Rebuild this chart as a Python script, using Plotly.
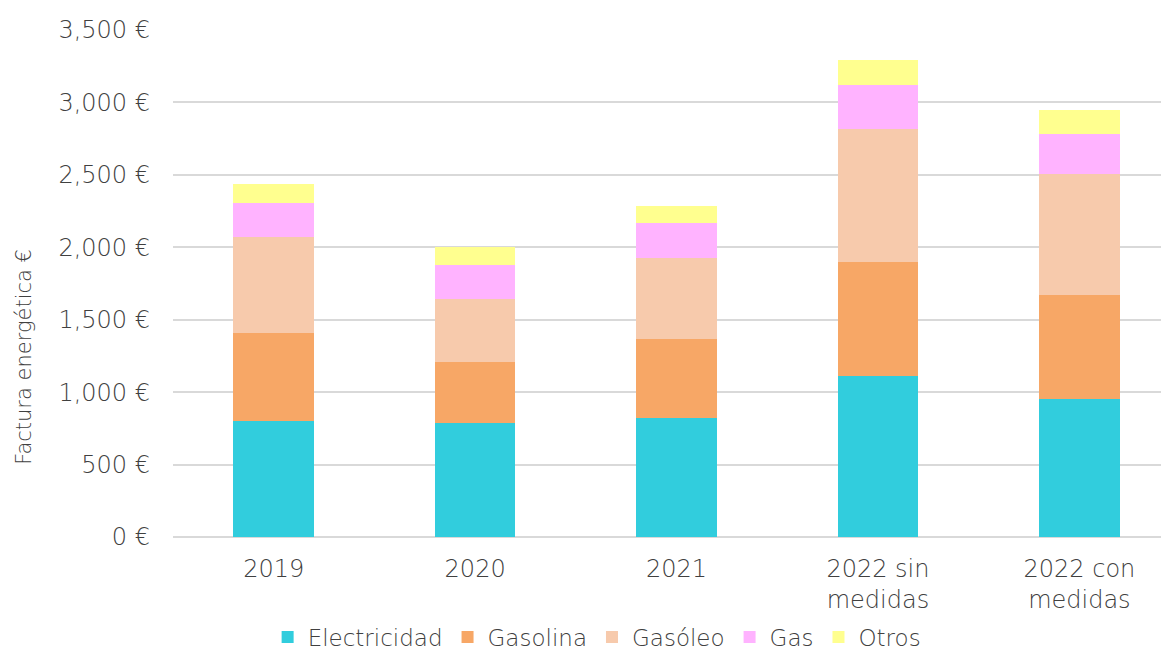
import plotly.graph_objects as go

categories = ["2019", "2020", "2021", "2022 sin<br>medidas", "2022 con<br>medidas"]
series_names = ["Electricidad", "Gasolina", "Gasóleo", "Gas", "Otros"]

electricidad = [801, 787, 821, 1111, 953]
gasolina = [607, 421, 546, 787, 717]
gasoleo = [663, 435, 559, 918, 836]
gas = [235, 235, 242, 304, 276]
otros = [131, 124, 117, 173, 166]

colors = ["#31CDDD", "#F7A766", "#F7CAAC", "#FFB3FF", "#FFFF8F"]

FONT = "DejaVu Sans"
TXT = "#404040"

fig = go.Figure()
for name, vals, col in zip(series_names, [electricidad, gasolina, gasoleo, gas, otros], colors):
    fig.add_trace(
        go.Bar(
            x=categories,
            y=vals,
            name=name,
            marker=dict(color=col, line=dict(width=0)),
            width=0.4,
        )
    )

# y axis title placed a bit low, like the original
fig.add_annotation(
    text="Factura energética €",
    textangle=-90,
    xref="paper",
    yref="paper",
    x=-0.15,
    y=0.355,
    xanchor="center",
    yanchor="middle",
    showarrow=False,
    font=dict(size=21),
)

# page body has an 8px margin, so the figure is 8px smaller and margins shifted
fig.update_layout(
    barmode="stack",
    width=1161,
    height=642,
    paper_bgcolor="white",
    plot_bgcolor="white",
    margin=dict(l=165, r=1, t=22, b=113, autoexpand=False),
    font=dict(family=FONT, color=TXT, size=24, weight=200),
    legend=dict(
        orientation="h",
        xref="container",
        x=0.507,
        xanchor="center",
        yref="container",
        y=0.02,
        yanchor="middle",
        bgcolor="rgba(0,0,0,0)",
        font=dict(size=23),
        itemwidth=30,
        traceorder="normal",
    ),
    xaxis=dict(
        range=[-0.5, 4.44],
        showgrid=False,
        showline=False,
        ticks="",
        ticklabelstandoff=15,
        tickfont=dict(size=24),
    ),
    yaxis=dict(
        range=[0, 3500],
        dtick=500,
        tickformat=",.0f",
        ticksuffix=" €",
        gridcolor="#D9D9D9",
        gridwidth=2,
        zeroline=True,
        zerolinecolor="#D9D9D9",
        zerolinewidth=2,
        ticks="",
        ticklabelstandoff=22,
        tickfont=dict(size=24),
    ),
)

fig.write_html("out.html")
